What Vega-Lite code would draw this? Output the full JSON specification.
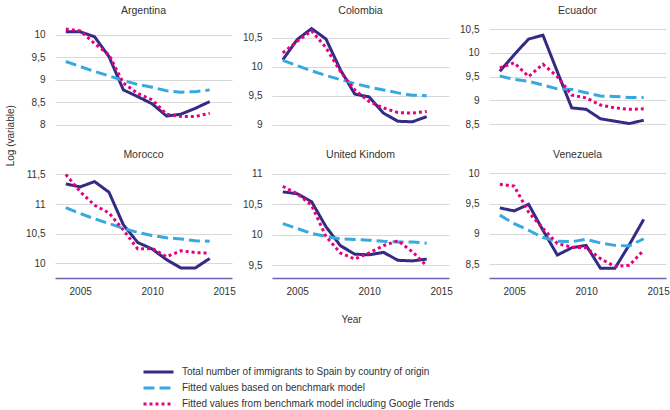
{
  "$schema": "https://vega.github.io/schema/vega-lite/v6.json",
  "padding": {"left": 5, "top": 5, "right": 5, "bottom": 5},
  "bounds": "flush",
  "config": {
    "font": "Liberation Sans",
    "view": {"stroke": null},
    "locale": {"number": {"decimal": ",", "thousands": ".", "grouping": [3], "currency": ["", " €"]}},
    "axis": {"labelFontSize": 10, "labelColor": "#333333", "titleFontSize": 10, "titleFontWeight": "normal", "titleColor": "#333333", "ticks": false},
    "axisY": {"domain": false, "gridColor": "#d9d9d9", "gridWidth": 1, "minExtent": 28, "maxExtent": 28, "labelPadding": 10},
    "axisX": {"grid": false, "labelPadding": 8},
    "title": {"fontSize": 10.5, "fontWeight": "normal", "offset": 5, "color": "#333333"},
    "legend": {"labelFontSize": 10, "labelColor": "#333333", "labelLimit": 0}
  },
  "data": {"values": [
    {"country": "Argentina", "series": "total", "year": 2004, "value": 10.07},
    {"country": "Argentina", "series": "total", "year": 2005, "value": 10.07},
    {"country": "Argentina", "series": "total", "year": 2006, "value": 9.96},
    {"country": "Argentina", "series": "total", "year": 2007, "value": 9.52},
    {"country": "Argentina", "series": "total", "year": 2008, "value": 8.78},
    {"country": "Argentina", "series": "total", "year": 2009, "value": 8.63},
    {"country": "Argentina", "series": "total", "year": 2010, "value": 8.47},
    {"country": "Argentina", "series": "total", "year": 2011, "value": 8.2},
    {"country": "Argentina", "series": "total", "year": 2012, "value": 8.24},
    {"country": "Argentina", "series": "total", "year": 2013, "value": 8.37},
    {"country": "Argentina", "series": "total", "year": 2014, "value": 8.52},
    {"country": "Argentina", "series": "benchmark", "year": 2004, "value": 9.41},
    {"country": "Argentina", "series": "benchmark", "year": 2005, "value": 9.3},
    {"country": "Argentina", "series": "benchmark", "year": 2006, "value": 9.19},
    {"country": "Argentina", "series": "benchmark", "year": 2007, "value": 9.09},
    {"country": "Argentina", "series": "benchmark", "year": 2008, "value": 8.99},
    {"country": "Argentina", "series": "benchmark", "year": 2009, "value": 8.9},
    {"country": "Argentina", "series": "benchmark", "year": 2010, "value": 8.84},
    {"country": "Argentina", "series": "benchmark", "year": 2011, "value": 8.76},
    {"country": "Argentina", "series": "benchmark", "year": 2012, "value": 8.73},
    {"country": "Argentina", "series": "benchmark", "year": 2013, "value": 8.74},
    {"country": "Argentina", "series": "benchmark", "year": 2014, "value": 8.78},
    {"country": "Argentina", "series": "trends", "year": 2004, "value": 10.13},
    {"country": "Argentina", "series": "trends", "year": 2005, "value": 10.09},
    {"country": "Argentina", "series": "trends", "year": 2006, "value": 9.81},
    {"country": "Argentina", "series": "trends", "year": 2007, "value": 9.56},
    {"country": "Argentina", "series": "trends", "year": 2008, "value": 8.93},
    {"country": "Argentina", "series": "trends", "year": 2009, "value": 8.7},
    {"country": "Argentina", "series": "trends", "year": 2010, "value": 8.56},
    {"country": "Argentina", "series": "trends", "year": 2011, "value": 8.24},
    {"country": "Argentina", "series": "trends", "year": 2012, "value": 8.19},
    {"country": "Argentina", "series": "trends", "year": 2013, "value": 8.19},
    {"country": "Argentina", "series": "trends", "year": 2014, "value": 8.26},

    {"country": "Colombia", "series": "total", "year": 2004, "value": 10.12},
    {"country": "Colombia", "series": "total", "year": 2005, "value": 10.47},
    {"country": "Colombia", "series": "total", "year": 2006, "value": 10.66},
    {"country": "Colombia", "series": "total", "year": 2007, "value": 10.48},
    {"country": "Colombia", "series": "total", "year": 2008, "value": 9.95},
    {"country": "Colombia", "series": "total", "year": 2009, "value": 9.53},
    {"country": "Colombia", "series": "total", "year": 2010, "value": 9.48},
    {"country": "Colombia", "series": "total", "year": 2011, "value": 9.2},
    {"country": "Colombia", "series": "total", "year": 2012, "value": 9.06},
    {"country": "Colombia", "series": "total", "year": 2013, "value": 9.05},
    {"country": "Colombia", "series": "total", "year": 2014, "value": 9.14},
    {"country": "Colombia", "series": "benchmark", "year": 2004, "value": 10.11},
    {"country": "Colombia", "series": "benchmark", "year": 2005, "value": 10.02},
    {"country": "Colombia", "series": "benchmark", "year": 2006, "value": 9.93},
    {"country": "Colombia", "series": "benchmark", "year": 2007, "value": 9.85},
    {"country": "Colombia", "series": "benchmark", "year": 2008, "value": 9.78},
    {"country": "Colombia", "series": "benchmark", "year": 2009, "value": 9.71},
    {"country": "Colombia", "series": "benchmark", "year": 2010, "value": 9.65},
    {"country": "Colombia", "series": "benchmark", "year": 2011, "value": 9.6},
    {"country": "Colombia", "series": "benchmark", "year": 2012, "value": 9.55},
    {"country": "Colombia", "series": "benchmark", "year": 2013, "value": 9.51},
    {"country": "Colombia", "series": "benchmark", "year": 2014, "value": 9.5},
    {"country": "Colombia", "series": "trends", "year": 2004, "value": 10.24},
    {"country": "Colombia", "series": "trends", "year": 2005, "value": 10.44},
    {"country": "Colombia", "series": "trends", "year": 2006, "value": 10.62},
    {"country": "Colombia", "series": "trends", "year": 2007, "value": 10.33},
    {"country": "Colombia", "series": "trends", "year": 2008, "value": 9.92},
    {"country": "Colombia", "series": "trends", "year": 2009, "value": 9.6},
    {"country": "Colombia", "series": "trends", "year": 2010, "value": 9.4},
    {"country": "Colombia", "series": "trends", "year": 2011, "value": 9.29},
    {"country": "Colombia", "series": "trends", "year": 2012, "value": 9.21},
    {"country": "Colombia", "series": "trends", "year": 2013, "value": 9.2},
    {"country": "Colombia", "series": "trends", "year": 2014, "value": 9.23},

    {"country": "Ecuador", "series": "total", "year": 2004, "value": 9.61},
    {"country": "Ecuador", "series": "total", "year": 2005, "value": 9.96},
    {"country": "Ecuador", "series": "total", "year": 2006, "value": 10.29},
    {"country": "Ecuador", "series": "total", "year": 2007, "value": 10.37},
    {"country": "Ecuador", "series": "total", "year": 2008, "value": 9.6},
    {"country": "Ecuador", "series": "total", "year": 2009, "value": 8.84},
    {"country": "Ecuador", "series": "total", "year": 2010, "value": 8.81},
    {"country": "Ecuador", "series": "total", "year": 2011, "value": 8.61},
    {"country": "Ecuador", "series": "total", "year": 2012, "value": 8.56},
    {"country": "Ecuador", "series": "total", "year": 2013, "value": 8.51},
    {"country": "Ecuador", "series": "total", "year": 2014, "value": 8.58},
    {"country": "Ecuador", "series": "benchmark", "year": 2004, "value": 9.51},
    {"country": "Ecuador", "series": "benchmark", "year": 2005, "value": 9.44},
    {"country": "Ecuador", "series": "benchmark", "year": 2006, "value": 9.4},
    {"country": "Ecuador", "series": "benchmark", "year": 2007, "value": 9.32},
    {"country": "Ecuador", "series": "benchmark", "year": 2008, "value": 9.24},
    {"country": "Ecuador", "series": "benchmark", "year": 2009, "value": 9.23},
    {"country": "Ecuador", "series": "benchmark", "year": 2010, "value": 9.16},
    {"country": "Ecuador", "series": "benchmark", "year": 2011, "value": 9.09},
    {"country": "Ecuador", "series": "benchmark", "year": 2012, "value": 9.08},
    {"country": "Ecuador", "series": "benchmark", "year": 2013, "value": 9.06},
    {"country": "Ecuador", "series": "benchmark", "year": 2014, "value": 9.06},
    {"country": "Ecuador", "series": "trends", "year": 2004, "value": 9.68},
    {"country": "Ecuador", "series": "trends", "year": 2005, "value": 9.79},
    {"country": "Ecuador", "series": "trends", "year": 2006, "value": 9.5},
    {"country": "Ecuador", "series": "trends", "year": 2007, "value": 9.76},
    {"country": "Ecuador", "series": "trends", "year": 2008, "value": 9.5},
    {"country": "Ecuador", "series": "trends", "year": 2009, "value": 9.11},
    {"country": "Ecuador", "series": "trends", "year": 2010, "value": 9.05},
    {"country": "Ecuador", "series": "trends", "year": 2011, "value": 8.9},
    {"country": "Ecuador", "series": "trends", "year": 2012, "value": 8.84},
    {"country": "Ecuador", "series": "trends", "year": 2013, "value": 8.81},
    {"country": "Ecuador", "series": "trends", "year": 2014, "value": 8.82},

    {"country": "Morocco", "series": "total", "year": 2004, "value": 11.34},
    {"country": "Morocco", "series": "total", "year": 2005, "value": 11.29},
    {"country": "Morocco", "series": "total", "year": 2006, "value": 11.38},
    {"country": "Morocco", "series": "total", "year": 2007, "value": 11.2},
    {"country": "Morocco", "series": "total", "year": 2008, "value": 10.65},
    {"country": "Morocco", "series": "total", "year": 2009, "value": 10.35},
    {"country": "Morocco", "series": "total", "year": 2010, "value": 10.24},
    {"country": "Morocco", "series": "total", "year": 2011, "value": 10.06},
    {"country": "Morocco", "series": "total", "year": 2012, "value": 9.92},
    {"country": "Morocco", "series": "total", "year": 2013, "value": 9.92},
    {"country": "Morocco", "series": "total", "year": 2014, "value": 10.08},
    {"country": "Morocco", "series": "benchmark", "year": 2004, "value": 10.94},
    {"country": "Morocco", "series": "benchmark", "year": 2005, "value": 10.84},
    {"country": "Morocco", "series": "benchmark", "year": 2006, "value": 10.75},
    {"country": "Morocco", "series": "benchmark", "year": 2007, "value": 10.67},
    {"country": "Morocco", "series": "benchmark", "year": 2008, "value": 10.59},
    {"country": "Morocco", "series": "benchmark", "year": 2009, "value": 10.52},
    {"country": "Morocco", "series": "benchmark", "year": 2010, "value": 10.47},
    {"country": "Morocco", "series": "benchmark", "year": 2011, "value": 10.43},
    {"country": "Morocco", "series": "benchmark", "year": 2012, "value": 10.41},
    {"country": "Morocco", "series": "benchmark", "year": 2013, "value": 10.38},
    {"country": "Morocco", "series": "benchmark", "year": 2014, "value": 10.37},
    {"country": "Morocco", "series": "trends", "year": 2004, "value": 11.5},
    {"country": "Morocco", "series": "trends", "year": 2005, "value": 11.21},
    {"country": "Morocco", "series": "trends", "year": 2006, "value": 10.98},
    {"country": "Morocco", "series": "trends", "year": 2007, "value": 10.85},
    {"country": "Morocco", "series": "trends", "year": 2008, "value": 10.56},
    {"country": "Morocco", "series": "trends", "year": 2009, "value": 10.24},
    {"country": "Morocco", "series": "trends", "year": 2010, "value": 10.25},
    {"country": "Morocco", "series": "trends", "year": 2011, "value": 10.11},
    {"country": "Morocco", "series": "trends", "year": 2012, "value": 10.21},
    {"country": "Morocco", "series": "trends", "year": 2013, "value": 10.18},
    {"country": "Morocco", "series": "trends", "year": 2014, "value": 10.17},

    {"country": "United Kindom", "series": "total", "year": 2004, "value": 10.7},
    {"country": "United Kindom", "series": "total", "year": 2005, "value": 10.67},
    {"country": "United Kindom", "series": "total", "year": 2006, "value": 10.54},
    {"country": "United Kindom", "series": "total", "year": 2007, "value": 10.13},
    {"country": "United Kindom", "series": "total", "year": 2008, "value": 9.82},
    {"country": "United Kindom", "series": "total", "year": 2009, "value": 9.68},
    {"country": "United Kindom", "series": "total", "year": 2010, "value": 9.67},
    {"country": "United Kindom", "series": "total", "year": 2011, "value": 9.71},
    {"country": "United Kindom", "series": "total", "year": 2012, "value": 9.58},
    {"country": "United Kindom", "series": "total", "year": 2013, "value": 9.57},
    {"country": "United Kindom", "series": "total", "year": 2014, "value": 9.6},
    {"country": "United Kindom", "series": "benchmark", "year": 2004, "value": 10.18},
    {"country": "United Kindom", "series": "benchmark", "year": 2005, "value": 10.1},
    {"country": "United Kindom", "series": "benchmark", "year": 2006, "value": 10.02},
    {"country": "United Kindom", "series": "benchmark", "year": 2007, "value": 9.97},
    {"country": "United Kindom", "series": "benchmark", "year": 2008, "value": 9.93},
    {"country": "United Kindom", "series": "benchmark", "year": 2009, "value": 9.92},
    {"country": "United Kindom", "series": "benchmark", "year": 2010, "value": 9.91},
    {"country": "United Kindom", "series": "benchmark", "year": 2011, "value": 9.89},
    {"country": "United Kindom", "series": "benchmark", "year": 2012, "value": 9.88},
    {"country": "United Kindom", "series": "benchmark", "year": 2013, "value": 9.88},
    {"country": "United Kindom", "series": "benchmark", "year": 2014, "value": 9.86},
    {"country": "United Kindom", "series": "trends", "year": 2004, "value": 10.79},
    {"country": "United Kindom", "series": "trends", "year": 2005, "value": 10.67},
    {"country": "United Kindom", "series": "trends", "year": 2006, "value": 10.48},
    {"country": "United Kindom", "series": "trends", "year": 2007, "value": 9.97},
    {"country": "United Kindom", "series": "trends", "year": 2008, "value": 9.7},
    {"country": "United Kindom", "series": "trends", "year": 2009, "value": 9.6},
    {"country": "United Kindom", "series": "trends", "year": 2010, "value": 9.7},
    {"country": "United Kindom", "series": "trends", "year": 2011, "value": 9.82},
    {"country": "United Kindom", "series": "trends", "year": 2012, "value": 9.9},
    {"country": "United Kindom", "series": "trends", "year": 2013, "value": 9.72},
    {"country": "United Kindom", "series": "trends", "year": 2014, "value": 9.49},

    {"country": "Venezuela", "series": "total", "year": 2004, "value": 9.43},
    {"country": "Venezuela", "series": "total", "year": 2005, "value": 9.38},
    {"country": "Venezuela", "series": "total", "year": 2006, "value": 9.49},
    {"country": "Venezuela", "series": "total", "year": 2007, "value": 9.06},
    {"country": "Venezuela", "series": "total", "year": 2008, "value": 8.65},
    {"country": "Venezuela", "series": "total", "year": 2009, "value": 8.77},
    {"country": "Venezuela", "series": "total", "year": 2010, "value": 8.81},
    {"country": "Venezuela", "series": "total", "year": 2011, "value": 8.43},
    {"country": "Venezuela", "series": "total", "year": 2012, "value": 8.43},
    {"country": "Venezuela", "series": "total", "year": 2013, "value": 8.82},
    {"country": "Venezuela", "series": "total", "year": 2014, "value": 9.24},
    {"country": "Venezuela", "series": "benchmark", "year": 2004, "value": 9.31},
    {"country": "Venezuela", "series": "benchmark", "year": 2005, "value": 9.17},
    {"country": "Venezuela", "series": "benchmark", "year": 2006, "value": 9.06},
    {"country": "Venezuela", "series": "benchmark", "year": 2007, "value": 8.94},
    {"country": "Venezuela", "series": "benchmark", "year": 2008, "value": 8.88},
    {"country": "Venezuela", "series": "benchmark", "year": 2009, "value": 8.87},
    {"country": "Venezuela", "series": "benchmark", "year": 2010, "value": 8.91},
    {"country": "Venezuela", "series": "benchmark", "year": 2011, "value": 8.85},
    {"country": "Venezuela", "series": "benchmark", "year": 2012, "value": 8.81},
    {"country": "Venezuela", "series": "benchmark", "year": 2013, "value": 8.8},
    {"country": "Venezuela", "series": "benchmark", "year": 2014, "value": 8.92},
    {"country": "Venezuela", "series": "trends", "year": 2004, "value": 9.82},
    {"country": "Venezuela", "series": "trends", "year": 2005, "value": 9.79},
    {"country": "Venezuela", "series": "trends", "year": 2006, "value": 9.36},
    {"country": "Venezuela", "series": "trends", "year": 2007, "value": 9.09},
    {"country": "Venezuela", "series": "trends", "year": 2008, "value": 8.84},
    {"country": "Venezuela", "series": "trends", "year": 2009, "value": 8.78},
    {"country": "Venezuela", "series": "trends", "year": 2010, "value": 8.77},
    {"country": "Venezuela", "series": "trends", "year": 2011, "value": 8.59},
    {"country": "Venezuela", "series": "trends", "year": 2012, "value": 8.46},
    {"country": "Venezuela", "series": "trends", "year": 2013, "value": 8.48},
    {"country": "Venezuela", "series": "trends", "year": 2014, "value": 8.73}
  ]},
  "title": {"text": "Log (variable)", "orient": "left", "anchor": "middle", "frame": "bounds", "fontSize": 10, "offset": 10, "dx": 73},
  "columns": 3,
  "spacing": {"row": 31, "column": 40},
  "concat": [
    {"title": "Argentina", "width": 177, "height": 113,
     "transform": [{"filter": "datum.country === 'Argentina'"}],
     "mark": {"type": "line", "strokeWidth": 3, "strokeCap": "butt"},
     "encoding": {
       "x": {"field": "year", "type": "quantitative", "scale": {"domain": [2003.25, 2015.55], "nice": false, "zero": false}, "axis": null},
       "y": {"field": "value", "type": "quantitative", "scale": {"domain": [7.8, 10.31], "nice": false, "zero": false}, "axis": {"values": [8, 8.5, 9, 9.5, 10], "format": ".1~f", "title": null}},
       "color": {"field": "series", "type": "nominal", "scale": {"domain": ["total", "benchmark", "trends"], "range": ["#342c84", "#36a9e1", "#e6007e"]},
         "legend": {"title": null, "orient": "none", "legendX": 87, "legendY": 343, "direction": "vertical", "symbolType": "stroke", "symbolSize": 900, "symbolStrokeWidth": 3, "clipHeight": 16, "rowPadding": 0, "labelOffset": 7,
           "labelExpr": "datum.label == 'total' ? 'Total number of immigrants to Spain by country of origin' : datum.label == 'benchmark' ? 'Fitted values based on benchmark model' : 'Fitted values from benchmark model including Google Trends'"}},
       "strokeDash": {"field": "series", "type": "nominal", "scale": {"domain": ["total", "benchmark", "trends"], "range": [[1, 0], [11, 5], [3, 3]]}, "legend": null}
     }},
    {"title": "Colombia", "width": 177, "height": 113,
     "transform": [{"filter": "datum.country === 'Colombia'"}],
     "mark": {"type": "line", "strokeWidth": 3, "strokeCap": "butt"},
     "encoding": {
       "x": {"field": "year", "type": "quantitative", "scale": {"domain": [2003.25, 2015.55], "nice": false, "zero": false}, "axis": null},
       "y": {"field": "value", "type": "quantitative", "scale": {"domain": [8.84, 10.79], "nice": false, "zero": false}, "axis": {"values": [9, 9.5, 10, 10.5], "format": ".1~f", "title": null}},
       "color": {"field": "series", "type": "nominal", "scale": {"domain": ["total", "benchmark", "trends"], "range": ["#342c84", "#36a9e1", "#e6007e"]}},
       "strokeDash": {"field": "series", "type": "nominal", "scale": {"domain": ["total", "benchmark", "trends"], "range": [[1, 0], [11, 5], [3, 3]]}, "legend": null}
     }},
    {"title": "Ecuador", "width": 177, "height": 113,
     "transform": [{"filter": "datum.country === 'Ecuador'"}],
     "mark": {"type": "line", "strokeWidth": 3, "strokeCap": "butt"},
     "encoding": {
       "x": {"field": "year", "type": "quantitative", "scale": {"domain": [2003.25, 2015.55], "nice": false, "zero": false}, "axis": null},
       "y": {"field": "value", "type": "quantitative", "scale": {"domain": [8.29, 10.67], "nice": false, "zero": false}, "axis": {"values": [8.5, 9, 9.5, 10, 10.5], "format": ".1~f", "title": null}},
       "color": {"field": "series", "type": "nominal", "scale": {"domain": ["total", "benchmark", "trends"], "range": ["#342c84", "#36a9e1", "#e6007e"]}},
       "strokeDash": {"field": "series", "type": "nominal", "scale": {"domain": ["total", "benchmark", "trends"], "range": [[1, 0], [11, 5], [3, 3]]}, "legend": null}
     }},
    {"title": "Morocco", "width": 177, "height": 113,
     "transform": [{"filter": "datum.country === 'Morocco'"}],
     "mark": {"type": "line", "strokeWidth": 3, "strokeCap": "butt"},
     "encoding": {
       "x": {"field": "year", "type": "quantitative", "scale": {"domain": [2003.25, 2015.55], "nice": false, "zero": false}, "axis": {"values": [2005, 2010, 2015], "format": "d", "title": null, "domainColor": "#6c63ac", "domainWidth": 1.5}},
       "y": {"field": "value", "type": "quantitative", "scale": {"domain": [9.75, 11.66], "nice": false, "zero": false}, "axis": {"values": [10, 10.5, 11, 11.5], "format": ".1~f", "title": null}},
       "color": {"field": "series", "type": "nominal", "scale": {"domain": ["total", "benchmark", "trends"], "range": ["#342c84", "#36a9e1", "#e6007e"]}},
       "strokeDash": {"field": "series", "type": "nominal", "scale": {"domain": ["total", "benchmark", "trends"], "range": [[1, 0], [11, 5], [3, 3]]}, "legend": null}
     }},
    {"title": "United Kindom", "width": 177, "height": 113,
     "transform": [{"filter": "datum.country === 'United Kindom'"}],
     "mark": {"type": "line", "strokeWidth": 3, "strokeCap": "butt"},
     "encoding": {
       "x": {"field": "year", "type": "quantitative", "scale": {"domain": [2003.25, 2015.55], "nice": false, "zero": false}, "axis": {"values": [2005, 2010, 2015], "format": "d", "title": "Year", "titlePadding": 18, "titleX": 79, "domainColor": "#6c63ac", "domainWidth": 1.5}},
       "y": {"field": "value", "type": "quantitative", "scale": {"domain": [9.29, 11.14], "nice": false, "zero": false}, "axis": {"values": [9.5, 10, 10.5, 11], "format": ".1~f", "title": null}},
       "color": {"field": "series", "type": "nominal", "scale": {"domain": ["total", "benchmark", "trends"], "range": ["#342c84", "#36a9e1", "#e6007e"]}},
       "strokeDash": {"field": "series", "type": "nominal", "scale": {"domain": ["total", "benchmark", "trends"], "range": [[1, 0], [11, 5], [3, 3]]}, "legend": null}
     }},
    {"title": "Venezuela", "width": 177, "height": 113,
     "transform": [{"filter": "datum.country === 'Venezuela'"}],
     "mark": {"type": "line", "strokeWidth": 3, "strokeCap": "butt"},
     "encoding": {
       "x": {"field": "year", "type": "quantitative", "scale": {"domain": [2003.25, 2015.55], "nice": false, "zero": false}, "axis": {"values": [2005, 2010, 2015], "format": "d", "title": null, "domainColor": "#6c63ac", "domainWidth": 1.5}},
       "y": {"field": "value", "type": "quantitative", "scale": {"domain": [8.27, 10.14], "nice": false, "zero": false}, "axis": {"values": [8.5, 9, 9.5, 10], "format": ".1~f", "title": null}},
       "color": {"field": "series", "type": "nominal", "scale": {"domain": ["total", "benchmark", "trends"], "range": ["#342c84", "#36a9e1", "#e6007e"]}},
       "strokeDash": {"field": "series", "type": "nominal", "scale": {"domain": ["total", "benchmark", "trends"], "range": [[1, 0], [11, 5], [3, 3]]}, "legend": null}
     }}
  ]
}
